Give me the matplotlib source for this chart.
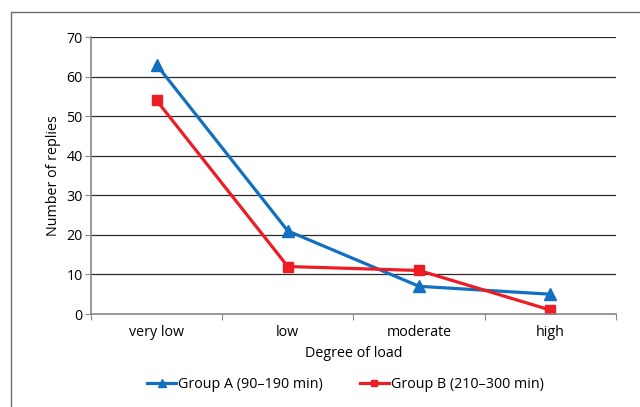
import numpy as np
import matplotlib
matplotlib.use("Agg")
from matplotlib import pyplot as plt
from matplotlib.patches import Rectangle

categories = ["very low", "low", "moderate", "high"]
group_a = [63, 21, 7, 5]
group_b = [54, 12, 11, 1]
label_a = "Group A (90\u2013190 min)"
label_b = "Group B (210\u2013300 min)"

plt.rcParams['font.family'] = ['Open Sans', 'DejaVu Sans']
plt.rcParams['font.size'] = 10.3

fig = plt.figure(figsize=(6.4, 4.07), dpi=100)
ax = fig.add_axes([0.142, 0.2285, 0.8205, 0.6805])

# outer frame, cut off on the right and bottom like the source
frame = Rectangle((11 / 640, -0.1), 1.2, (407 - 12) / 407 + 0.1, transform=fig.transFigure,
                  fill=False, edgecolor='#6e6e6e', linewidth=1.0, clip_on=False)
fig.patches.append(frame)

x = np.arange(len(categories))
ax.plot(x, group_a, color='#1170c0', linewidth=2.3, marker='^', markersize=8, label=label_a)
ax.plot(x, group_b, color='#ee1c25', linewidth=2.3, marker='s', markersize=7, label=label_b)

ax.set_xlim(-0.5, len(categories) - 0.5)
ax.set_ylim(0, 70)
ax.set_yticks(range(0, 71, 10))
ax.yaxis.grid(True, color='#2a2a2a', linewidth=0.9)
ax.set_axisbelow(True)

ax.set_xticks(np.arange(-0.5, len(categories), 1.0))
ax.set_xticklabels([])
ax.set_xticks(x, minor=True)
ax.set_xticklabels(categories, minor=True)
ax.tick_params(axis='x', which='minor', length=0, pad=8)
ax.tick_params(axis='x', which='major', length=4, color='#888888')
ax.tick_params(axis='y', length=4, color='#888888', pad=2)

for side in ['top', 'right']:
    ax.spines[side].set_visible(False)
for side in ['left', 'bottom']:
    ax.spines[side].set_color('#888888')
    ax.spines[side].set_linewidth(1.2)

ax.set_xlabel("Degree of load", labelpad=4)
ax.set_ylabel("Number of replies", labelpad=4)

ax.legend(loc='center', bbox_to_anchor=(0.485, -0.255), ncol=2, frameon=False,
          handlelength=2.0, handletextpad=0.15, columnspacing=2.6, markerscale=0.65)

fig.savefig("out.png", dpi=100)
